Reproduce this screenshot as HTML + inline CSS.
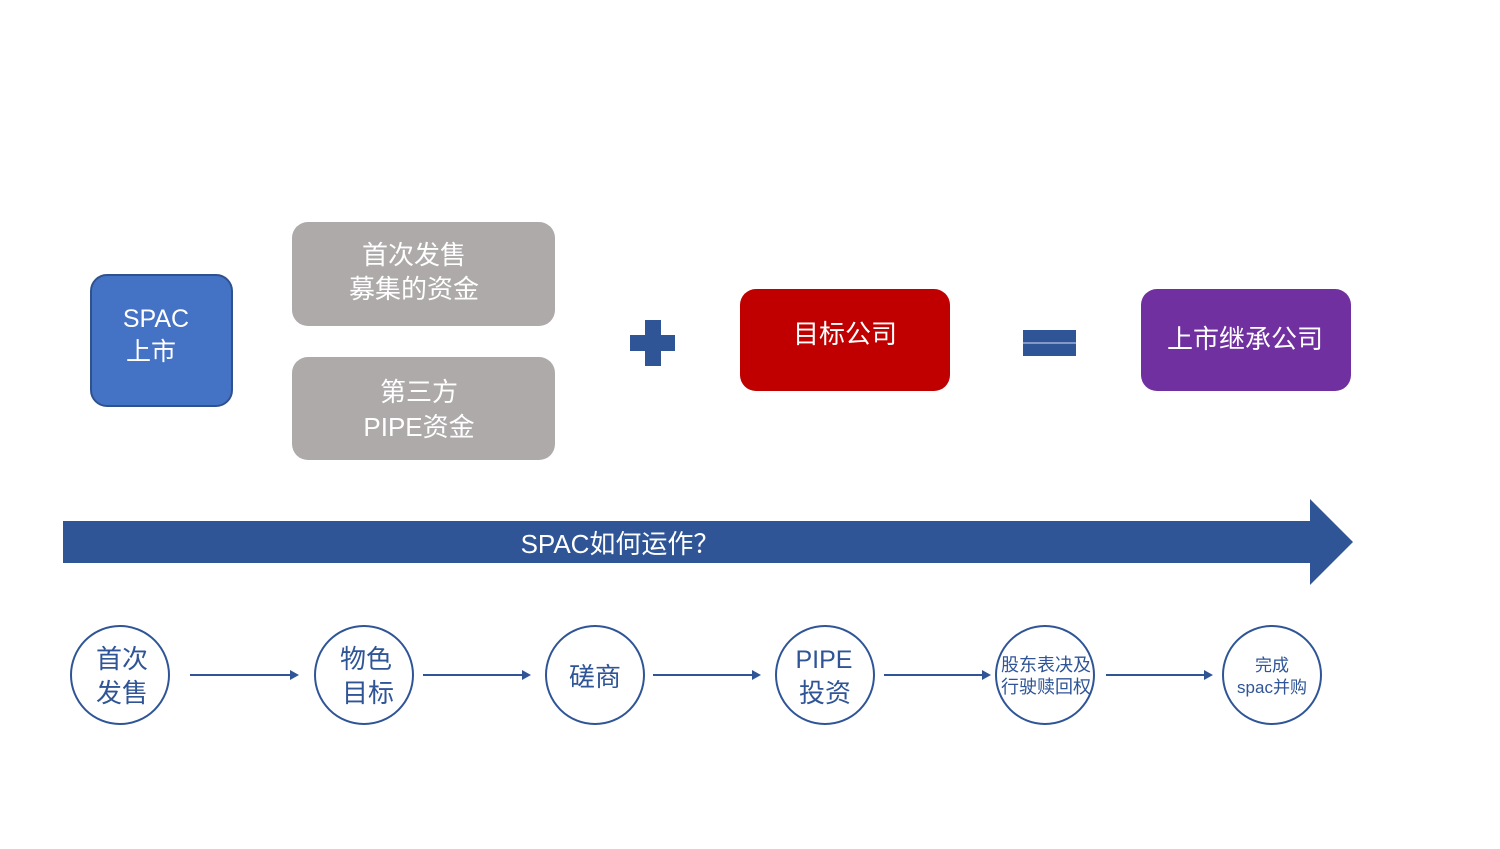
<!DOCTYPE html>
<html><head><meta charset="utf-8"><style>
body{margin:0;background:#fff}
svg text{font-family:"Liberation Sans","Noto Sans CJK SC",sans-serif}
</style></head><body>
<svg width="1500" height="844" viewBox="0 0 1500 844" xmlns="http://www.w3.org/2000/svg">
<rect x="91" y="275" width="141" height="131" rx="16" fill="#4472c4" stroke="#2f528f" stroke-width="2"/>
<text x="156" y="327" font-size="25" fill="#fff" text-anchor="middle">SPAC</text>
<text x="151" y="360" font-size="25" fill="#fff" text-anchor="middle">上市</text>
<rect x="292" y="222" width="263" height="104" rx="16" fill="#aeaaaa"/>
<text x="414" y="264" font-size="26" fill="#fff" text-anchor="middle">首次发售</text>
<text x="414" y="298" font-size="26" fill="#fff" text-anchor="middle">募集的资金</text>
<rect x="292" y="357" width="263" height="103" rx="16" fill="#aeaaaa"/>
<text x="419" y="401" font-size="26" fill="#fff" text-anchor="middle">第三方</text>
<text x="419" y="436" font-size="26" fill="#fff" text-anchor="middle">PIPE资金</text>
<rect x="630" y="335" width="45" height="16" fill="#2f5597"/>
<rect x="645" y="320" width="16" height="46" fill="#2f5597"/>
<rect x="740" y="289" width="210" height="102" rx="16" fill="#c00000"/>
<text x="845" y="343" font-size="26" fill="#fff" text-anchor="middle">目标公司</text>
<rect x="1023" y="330" width="53" height="26" fill="#2f5597"/>
<line x1="1023" y1="343" x2="1076" y2="343" stroke="#9db0d6" stroke-width="1.5"/>
<rect x="1141" y="289" width="210" height="102" rx="16" fill="#7030a0"/>
<text x="1245" y="348" font-size="26" fill="#fff" text-anchor="middle">上市继承公司</text>
<polygon points="63,521 1310,521 1310,499 1353,542 1310,585 1310,563 63,563" fill="#2f5597"/>
<text x="620" y="553" font-size="26" fill="#fff" text-anchor="middle">SPAC如何运作？</text>
<g fill="none" stroke="#2f5597" stroke-width="2">
<circle cx="120" cy="675" r="49"/><circle cx="364" cy="675" r="49"/><circle cx="595" cy="675" r="49"/>
<circle cx="825" cy="675" r="49"/><circle cx="1045" cy="675" r="49"/><circle cx="1272" cy="675" r="49"/>
<line x1="190" y1="675" x2="292" y2="675"/><line x1="423" y1="675" x2="524" y2="675"/>
<line x1="653" y1="675" x2="754" y2="675"/><line x1="884" y1="675" x2="984" y2="675"/>
<line x1="1106" y1="675" x2="1206" y2="675"/>
</g>
<g fill="#2f5597">
<polygon points="290,670 299,675 290,680"/><polygon points="522,670 531,675 522,680"/>
<polygon points="752,670 761,675 752,680"/><polygon points="982,670 991,675 982,680"/>
<polygon points="1204,670 1213,675 1204,680"/>
</g>
<g fill="#2f5597" text-anchor="middle">
<text x="122" y="668" font-size="26">首次</text><text x="122" y="702" font-size="26">发售</text>
<text x="366" y="668" font-size="26">物色</text><text x="368" y="702" font-size="26">目标</text>
<text x="595" y="686" font-size="26">磋商</text>
<text x="824" y="668" font-size="25">PIPE</text><text x="825" y="702" font-size="26">投资</text>
<text x="1046" y="671" font-size="18">股东表决及</text><text x="1046" y="693" font-size="18">行驶赎回权</text>
<text x="1272" y="671" font-size="17">完成</text><text x="1272" y="693" font-size="17">spac并购</text>
</g>
</svg>
</body></html>
